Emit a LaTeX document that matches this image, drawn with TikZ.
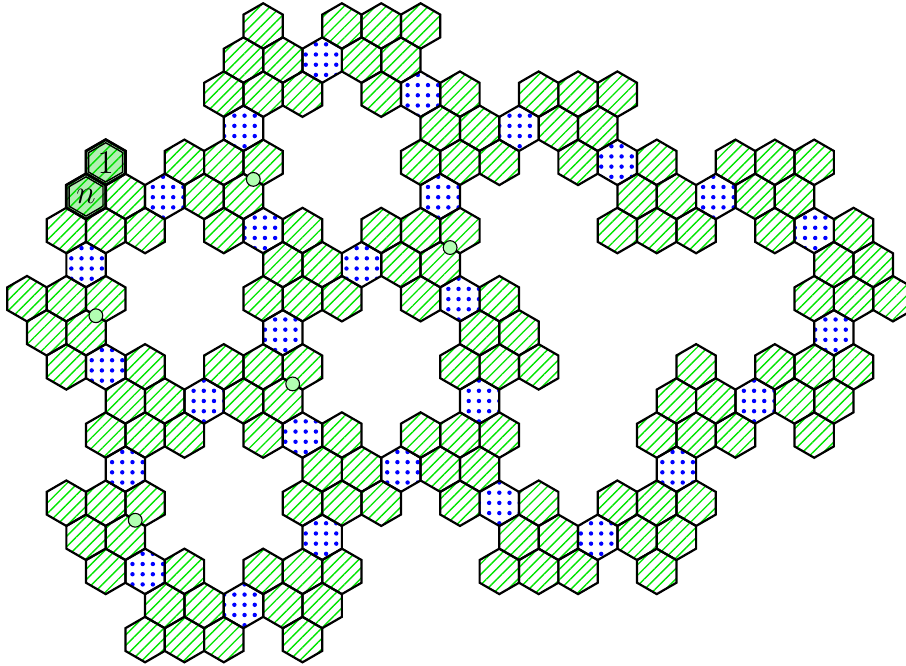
\documentclass[tikz,border=0pt]{standalone}
\usepackage{tikz}
\usetikzlibrary{patterns,patterns.meta}

\def\hexr{0.29cm}
\def\hexri{0.25cm}
% one pointy-top cell of the grid at column #2, row #3
\newcommand{\hexcell}[4][\hexr]{%
  \draw[#2] (#3,#4) +(30:#1) -- +(90:#1) -- +(150:#1) -- +(210:#1) -- +(270:#1) -- +(330:#1) -- cycle;}

\tikzset{
  cellbase/.style={draw=black, thick},
  hatchcell/.style={cellbase, pattern={Lines[angle=45, distance=2.7pt, line width=0.5pt]}, pattern color=green!90!black},
  dotcell/.style={cellbase, pattern={Dots[distance=3.7pt, radius=0.8pt]}, pattern color=blue},
  endcell/.style={draw=black, line width=1pt, fill=green!80!black, fill opacity=0.3},
  endinner/.style={draw=black, line width=0.5pt},
  junction/.style={circle, draw=black, thin, fill=green!30, inner sep=0pt, minimum size=5pt},
  celllabel/.style={font=\large, inner sep=0pt}
}

\begin{document}
\begin{tikzpicture}[x=0.251147cm, y=-0.435cm]
  \useasboundingbox (-1.372,-0.7627) rectangle (44.665,18.774);
  % hatched cells, row by row
  \foreach \r/\qs in {
    0/{12,16,18,20},
    1/{11,13,17,19},
    2/{10,12,14,18,22,26,28,30},
    3/{21,23,27,29},
    4/{4,8,10,12,20,22,24,28,32,36,38,40},
    5/{3,5,9,11,31,33,37,39},
    6/{2,4,6,10,14,18,20,22,30,32,34,38,42},
    7/{13,15,19,21,41,43},
    8/{0,2,4,12,14,16,20,24,40,42,44},
    9/{1,3,23,25},
    10/{2,6,10,12,14,22,24,26,34,38,40,42},
    11/{5,7,11,13,33,35,39,41},
    12/{4,6,8,12,16,20,22,24,32,34,36,40},
    13/{15,17,21,23},
    14/{2,4,6,14,16,18,22,26,30,32,34},
    15/{3,5,25,27,31,33},
    16/{4,8,12,14,16,24,26,28,32},
    17/{7,9,13,15},
    18/{6,8,10,14}}{
    \foreach \q in \qs {\hexcell{hatchcell}{\q}{\r}}
  }
  % dotted cells
  \foreach \q/\r in {15/1, 20/2, 11/3, 25/3, 30/4, 7/5, 21/5, 35/5, 12/6, 40/6,
    3/7, 17/7, 22/8, 13/9, 41/9, 4/10, 9/11, 23/11, 37/11, 14/12,
    5/13, 19/13, 33/13, 24/14, 15/15, 29/15, 6/16, 11/17}{
    \hexcell{dotcell}{\q}{\r}
  }
  % the two end cells
  \foreach \q/\r in {4/4, 3/5}{
    \hexcell{endcell}{\q}{\r}
    \hexcell[\hexri]{endinner}{\q}{\r}
  }
  \node[celllabel] (cellone) at (4,4) {1};
  \node[celllabel] (celln) at (3,5) {$n$};
  % small markers on shared edges
  \node[junction] (ja) at (11.5,4.5) {};
  \node[junction] (jb) at (21.5,6.5) {};
  \node[junction] (jc) at (3.5,8.5) {};
  \node[junction] (jd) at (13.5,10.5) {};
  \node[junction] (je) at (5.5,14.5) {};
\end{tikzpicture}
\end{document}
